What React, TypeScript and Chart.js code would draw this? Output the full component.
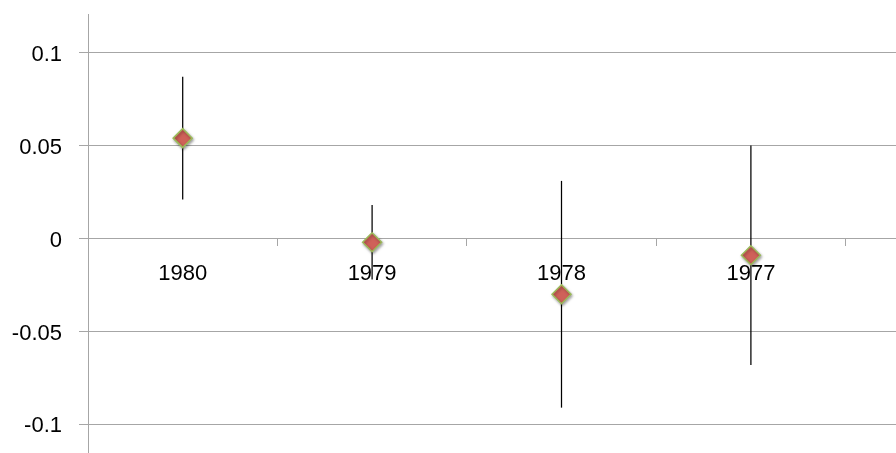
import { useEffect, useRef } from 'react';
import { Chart, registerables } from 'chart.js';

Chart.register(...registerables);

// Categories shown in the chart (the plot area continues past the right edge of the picture)
const categories = ['1980', '1979', '1978', '1977'];
const croppedCategories = [''];
// Point estimates and the ends of their error bars
const estimates = [0.054, -0.002, -0.03, -0.009];
const lowerBounds = [0.021, -0.022, -0.091, -0.068];
const upperBounds = [0.087, 0.018, 0.031, 0.05];
// Value-axis ticks
const yTickValues = [0.1, 0.05, 0, -0.05, -0.1];
const yTickLabels = ['0.1', '0.05', '0', '-0.05', '-0.1'];

const GRID = '#a6a6a6';
const FONT = { family: '"Liberation Sans", Arial, sans-serif', size: 22, lineHeight: 1.2 };

const errorBarPlugin = {
  id: 'errorBars',
  beforeDatasetsDraw(chart: any) {
    const { ctx, scales } = chart;
    const x = scales.x;
    const y = scales.y;
    ctx.save();
    ctx.strokeStyle = '#000000';
    ctx.lineWidth = 1.25;
    categories.forEach((_c, i) => {
      const px = x.getPixelForValue(i);
      ctx.beginPath();
      ctx.moveTo(px, y.getPixelForValue(upperBounds[i]));
      ctx.lineTo(px, y.getPixelForValue(lowerBounds[i]));
      ctx.stroke();
    });
    ctx.restore();
    ctx.save();
    ctx.shadowColor = 'rgba(0,0,0,0.35)';
    ctx.shadowBlur = 3;
    ctx.shadowOffsetX = 1;
    ctx.shadowOffsetY = 1.5;
  },
  afterDatasetsDraw(chart: any) {
    chart.ctx.restore();
  },
};

export default function App() {
  const canvasRef = useRef<HTMLCanvasElement | null>(null);

  useEffect(() => {
    if (!canvasRef.current) return;
    const chart = new Chart(canvasRef.current, {
      type: 'line',
      data: {
        labels: [...categories, ...croppedCategories],
        datasets: [
          {
            data: estimates,
            showLine: false,
            pointStyle: 'rectRot',
            pointRadius: 9.5,
            pointHoverRadius: 9.5,
            pointBackgroundColor: '#cf6159',
            pointBorderColor: '#9bbb59',
            pointBorderWidth: 1.5,
          },
        ],
      },
      options: {
        animation: false,
        responsive: true,
        maintainAspectRatio: false,
        events: [],
        layout: { padding: { top: 14, left: 0, right: 0, bottom: 0 } },
        plugins: { legend: { display: false }, tooltip: { enabled: false } },
        scales: {
          x: {
            type: 'category',
            position: { y: 0 } as any,
            offset: true,
            grid: {
              display: true,
              drawOnChartArea: false,
              drawTicks: true,
              tickLength: 7,
              offset: true,
              color: GRID,
              lineWidth: 1,
            },
            border: { display: true, color: GRID, width: 1 },
            ticks: {
              padding: 15,
              font: FONT,
              color: '#000000',
              maxRotation: 0,
              autoSkip: false,
            },
            afterFit(scale: any) {
              scale.paddingLeft = 0;
              scale.paddingRight = 0;
              scale.paddingTop = 0;
              scale.paddingBottom = 0;
            },
          },
          y: {
            type: 'linear',
            min: -0.1154,
            max: 0.1208,
            grid: { color: GRID, lineWidth: 1, tickLength: 9, drawTicks: true },
            border: { display: true, color: GRID, width: 1 },
            ticks: {
              padding: 17,
              labelOffset: 2,
              font: FONT,
              color: '#000000',
              autoSkip: false,
              callback: (value: any) => {
                const idx = yTickValues.indexOf(Number(value));
                return idx >= 0 ? yTickLabels[idx] : '';
              },
            },
            afterBuildTicks(scale: any) {
              scale.ticks = yTickValues.map((value) => ({ value }));
            },
            afterFit(scale: any) {
              scale.width = 88;
              scale.paddingTop = 0;
              scale.paddingBottom = 0;
            },
          },
        },
      },
      plugins: [errorBarPlugin],
    });
    return () => chart.destroy();
  }, []);

  return (
    <div
      style={{
        position: 'absolute',
        left: 0,
        top: 0,
        width: 896,
        height: 453,
        overflow: 'hidden',
        background: '#ffffff',
      }}
    >
      <div style={{ position: 'relative', width: 1046, height: 464 }}>
        <canvas ref={canvasRef} />
      </div>
    </div>
  );
}
